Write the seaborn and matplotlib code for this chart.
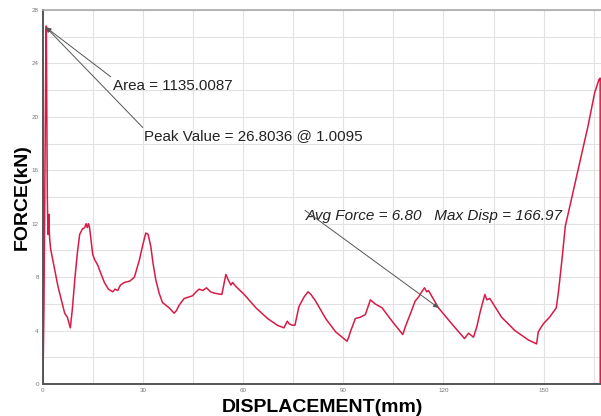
import matplotlib
matplotlib.use("Agg")
import matplotlib.pyplot as plt
import seaborn as sns
import pandas as pd

# force-displacement curve
disp = [0, 0.3, 0.6, 0.85, 1.0, 1.15, 1.3, 1.5, 1.7, 1.8, 1.9, 2.0, 2.3, 3.0, 4.5, 5.5,
        6.5, 7.3, 8.2, 8.8, 9.6, 10.3, 11.0, 11.8, 12.5, 12.9, 13.3, 13.6, 13.9, 14.3,
        14.9, 15.5, 16.4, 17.3, 18.4, 19.6, 20.9, 21.6, 22.4, 23.2, 24.4, 26.0, 27.4,
        28.9, 29.9, 30.8, 31.5, 32.3, 33.0, 33.8, 34.8, 35.8, 37.8, 39.3, 40.0, 40.8,
        42.3, 44.8, 45.9, 46.8, 47.9, 49.0, 50.2, 51.3, 53.6, 54.3, 54.8, 55.5, 56.3,
        56.8, 57.8, 60.3, 63.8, 67.3, 70.2, 72.2, 73.2, 73.8, 74.7, 75.5, 76.7, 78.2,
        79.4, 80.3, 81.7, 84.7, 87.7, 91.1, 91.6, 92.1, 93.6, 95.1, 96.6, 98.1, 99.5,
        101.6, 104.6, 107.8, 108.6, 110.0, 111.5, 112.5, 113.5, 114.3, 115.0, 115.5,
        118.5, 122.5, 126.3, 127.5, 129.0, 130.0, 131.0, 132.4, 133.0, 133.9, 135.4,
        137.4, 141.4, 145.4, 147.9, 148.4, 149.9, 151.8, 153.8, 154.5, 155.5, 156.5,
        158.3, 160.3, 163.3, 165.3, 166.6, 166.95, 166.97]
force = [0, 6, 16, 24.5, 26.8, 20, 14, 11.2, 12.0, 12.7, 11.4, 10.9, 10.1, 9.2, 7.3, 6.3,
         5.3, 5.0, 4.2, 5.6, 8.0, 9.8, 11.2, 11.6, 11.7, 12.0, 11.7, 12.0, 11.8, 11.0,
         9.7, 9.3, 8.9, 8.3, 7.6, 7.1, 6.9, 7.1, 7.0, 7.4, 7.6, 7.7, 8.0,
         9.3, 10.4, 11.3, 11.2, 10.3, 9.0, 7.8, 6.8, 6.1, 5.7, 5.3, 5.5, 5.9,
         6.4, 6.6, 6.9, 7.1, 7.0, 7.2, 6.9, 6.8, 6.7, 7.6, 8.2, 7.8, 7.4,
         7.6, 7.3, 6.7, 5.7, 4.9, 4.4, 4.2, 4.7, 4.5, 4.4, 4.4, 5.8, 6.5,
         6.9, 6.7, 6.2, 4.9, 3.9, 3.2, 3.5, 3.9, 4.9, 5.0, 5.2, 6.3, 6.0,
         5.7, 4.7, 3.7, 4.3, 5.2, 6.2, 6.5, 6.9, 7.2, 6.9, 7.0,
         5.7, 4.5, 3.4, 3.8, 3.5, 4.3, 5.4, 6.7, 6.3, 6.4, 5.8,
         5.0, 4.0, 3.3, 3.0, 3.9, 4.5, 5.0, 5.7, 7.0, 9.3, 11.8,
         13.8, 16.0, 19.3, 21.8, 22.8, 22.9, 0]

x_ticks = [0, 30, 60, 90, 120, 150]
y_ticks = [0, 4, 8, 12, 16, 20, 24, 28]

area_txt = "Area = 1135.0087"
peak_txt = "Peak Value = 26.8036 @ 1.0095"
avg_txt = "Avg Force = 6.80   Max Disp = 166.97"

df = pd.DataFrame({"disp": disp, "force": force})

sns.set_theme(style="white")
plt.rcParams["font.family"] = ["Liberation Sans", "DejaVu Sans"]

fig = plt.figure(figsize=(6.01, 4.16), dpi=100)
ax = fig.add_axes([0.0715, 0.077, 0.9285, 0.899])

sns.lineplot(data=df, x="disp", y="force", sort=False, estimator=None,
             color="#d81b46", linewidth=1.1, ax=ax)

ax.set_xlim(0, 167.2)
ax.set_ylim(0, 28)
ax.set_xticks(x_ticks)
ax.set_yticks(y_ticks)
ax.set_xticks(range(0, 168, 15), minor=True)
ax.set_yticks(range(0, 29, 2), minor=True)
ax.grid(True, which="both", color="#e2e2e2", linewidth=0.8)
ax.tick_params(axis="both", which="both", length=0, labelsize=4.5,
               labelcolor="#777777", pad=3)

for side in ["left", "bottom"]:
    ax.spines[side].set_color("#555555")
    ax.spines[side].set_linewidth(1.4)
ax.spines["top"].set_color("#aaaaaa")
ax.spines["top"].set_linewidth(1.2)
ax.spines["right"].set_visible(False)

ax.set_xlabel("DISPLACEMENT(mm)", fontsize=14, fontweight="bold", color="black", labelpad=4)
ax.set_ylabel("FORCE(kN)", fontsize=14, fontweight="bold", color="black", labelpad=1)

# text labels, then arrows from their upper-left corners
ax.text(20.9, 22.3, area_txt, fontsize=10.9, color="#222222", va="center", ha="left")
ax.text(30.4, 18.55, peak_txt, fontsize=10.9, color="#222222", va="center", ha="left")
ax.text(78.6, 12.6, avg_txt, fontsize=11, color="#222222", va="center", ha="left",
        style="italic")

arrow = dict(arrowstyle="-|>", color="#555555", lw=0.7, mutation_scale=7,
             shrinkA=0, shrinkB=0)
ax.annotate("", xy=(0.9, 26.7), xytext=(20.3, 23.0), arrowprops=arrow)
ax.annotate("", xy=(0.9, 26.7), xytext=(29.9, 19.2), arrowprops=arrow)
ax.annotate("", xy=(118.5, 5.7), xytext=(78.5, 13.0), arrowprops=arrow)

fig.savefig("out.png", dpi=100)
